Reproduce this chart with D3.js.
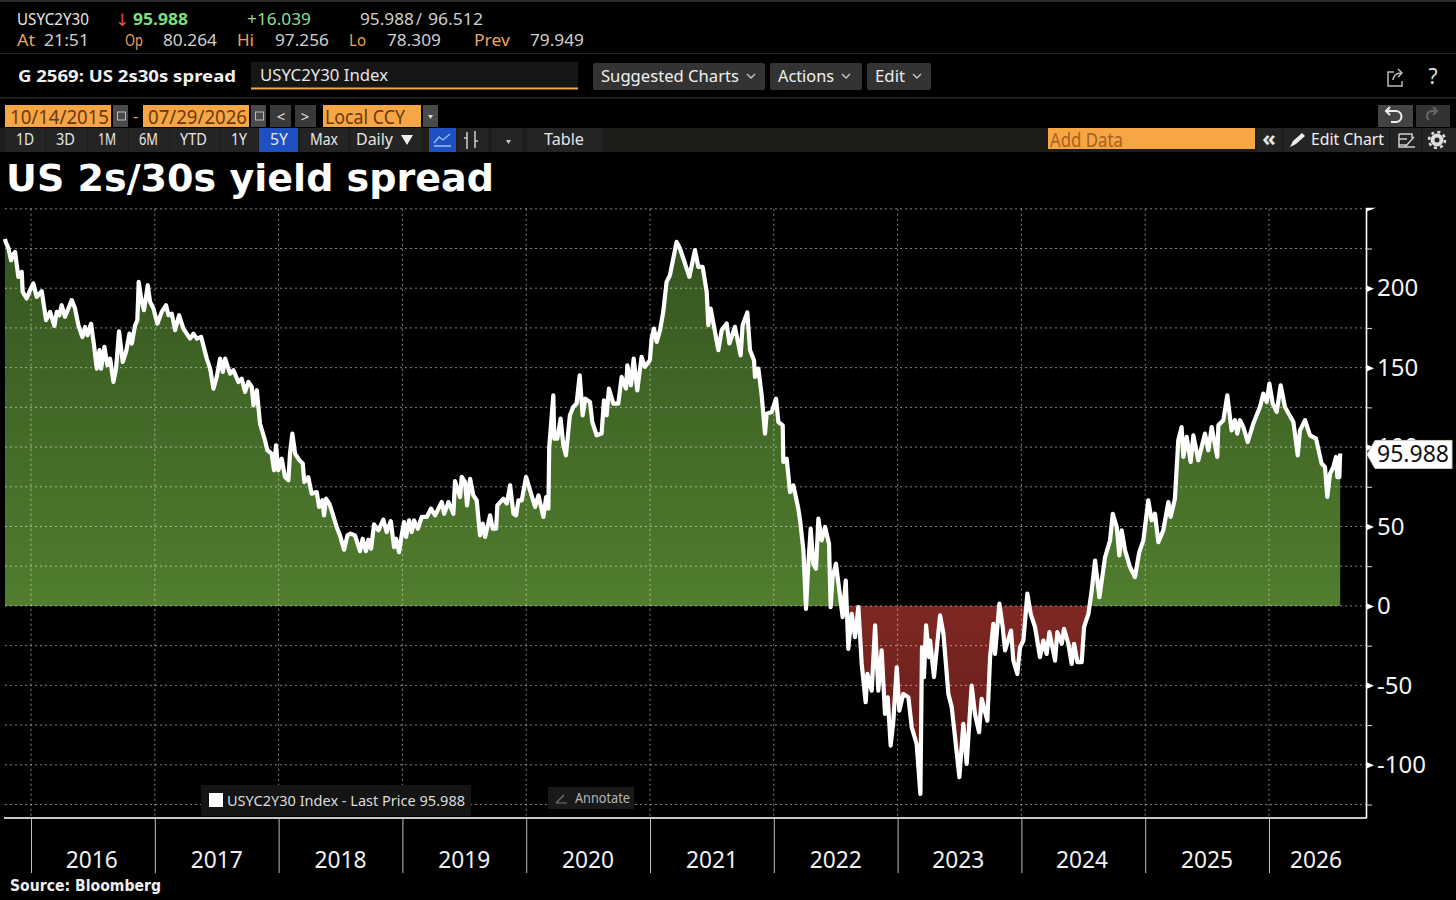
<!DOCTYPE html>
<html lang="en">
<head>
<meta charset="UTF-8">
<title>US 2s/30s yield spread</title>
<script src="https://d3js.org/d3.v7.min.js"></script>
<style>
    html, body { margin: 0; padding: 0; background: #000; overflow: hidden; }
    svg { display: block; }
    text { font-family: "Noto Sans", "DejaVu Sans", sans-serif; }
</style>
</head>
<body>
<div id="chart"></div>
<script>
// Spread in bp. Dates are decimal years.
const spreadDates = [
  2015.79,2015.796,2015.817,2015.839,2015.852,2015.871,2015.898,2015.925,2015.933,2015.965,2015.992,
  2016.019,2016.046,2016.087,2016.122,2016.154,2016.189,2016.208,2016.229,2016.248,2016.275,2016.329,2016.356,2016.383,2016.415,2016.437,2016.456,2016.485,2016.509,2016.531,2016.553,2016.566,2016.593,2016.617,2016.639,2016.666,2016.687,2016.711,2016.741,2016.768,2016.795,2016.814,2016.841,2016.859,2016.87,2016.894,2016.913,2016.943,2016.962,2016.989,
  2017.021,2017.056,2017.091,2017.11,2017.137,2017.164,2017.196,2017.231,2017.285,2017.312,2017.339,2017.374,2017.42,2017.447,2017.474,2017.5,2017.527,2017.549,2017.568,2017.608,2017.635,2017.675,2017.702,2017.729,2017.756,2017.783,2017.797,2017.824,2017.85,2017.89,2017.909,2017.944,2017.963,2017.979,2017.998,
  2018.025,2018.052,2018.079,2018.092,2018.111,2018.133,2018.168,2018.195,2018.208,2018.24,2018.267,2018.308,2018.327,2018.354,2018.367,2018.383,2018.41,2018.437,2018.469,2018.496,2018.529,2018.556,2018.582,2018.617,2018.658,2018.679,2018.706,2018.725,2018.747,2018.771,2018.806,2018.846,2018.873,2018.906,2018.933,2018.949,2018.973,2018.994,
  2019.013,2019.03,2019.054,2019.075,2019.094,2019.124,2019.156,2019.197,2019.231,2019.264,2019.318,2019.337,2019.372,2019.412,2019.425,2019.466,2019.479,2019.506,2019.522,2019.547,2019.573,2019.6,2019.627,2019.649,2019.668,2019.708,2019.73,2019.757,2019.767,2019.816,2019.843,2019.87,2019.897,2019.918,2019.937,2019.964,2019.999,
  2020.031,2020.072,2020.099,2020.139,2020.161,2020.179,2020.186,2020.219,2020.227,2020.251,2020.278,2020.3,2020.321,2020.353,2020.38,2020.407,2020.432,2020.456,2020.477,2020.515,2020.534,2020.569,2020.609,2020.628,2020.65,2020.668,2020.704,2020.744,2020.771,2020.806,2020.817,2020.846,2020.868,2020.897,2020.932,2020.959,2020.999,
  2021.013,2021.032,2021.054,2021.081,2021.107,2021.134,2021.161,2021.188,2021.215,2021.242,2021.269,2021.318,2021.363,2021.39,2021.425,2021.458,2021.471,2021.49,2021.525,2021.552,2021.579,2021.619,2021.641,2021.686,2021.732,2021.748,2021.786,2021.808,2021.84,2021.848,2021.875,2021.902,2021.929,2021.942,2021.983,
  2022.018,2022.037,2022.072,2022.077,2022.104,2022.131,2022.158,2022.198,2022.212,2022.239,2022.26,2022.279,2022.298,2022.319,2022.341,2022.36,2022.387,2022.414,2022.446,2022.459,2022.475,2022.502,2022.529,2022.556,2022.581,2022.602,2022.629,2022.656,2022.683,2022.71,2022.742,2022.756,2022.791,2022.818,2022.844,2022.871,2022.898,2022.92,2022.944,2022.966,2022.993,
  2023.014,2023.046,2023.087,2023.114,2023.154,2023.184,2023.197,2023.213,2023.23,2023.254,2023.262,2023.294,2023.343,2023.37,2023.388,2023.41,2023.437,2023.464,2023.499,2023.531,2023.558,2023.598,2023.625,2023.658,2023.679,2023.725,2023.747,2023.773,2023.787,2023.822,2023.849,2023.868,2023.916,2023.935,2023.967,2023.989,
  2024.016,2024.048,2024.075,2024.11,2024.15,2024.177,2024.204,2024.226,2024.272,2024.29,2024.326,2024.344,2024.379,2024.406,2024.425,2024.452,2024.487,2024.506,2024.541,2024.568,2024.595,2024.63,2024.676,2024.716,2024.738,2024.77,2024.791,2024.81,2024.837,2024.877,2024.917,2024.952,2024.985,
  2025.025,2025.052,2025.079,2025.106,2025.146,2025.187,2025.205,2025.24,2025.267,2025.294,2025.308,2025.335,2025.367,2025.389,2025.429,2025.483,2025.51,2025.537,2025.582,2025.591,2025.631,2025.663,2025.698,2025.725,2025.744,2025.766,2025.793,2025.828,2025.873,2025.927,2025.954,2025.981,
  2026.003,2026.03,2026.062,2026.094,2026.129,2026.197,2026.232,2026.25,2026.291,2026.331,2026.38,2026.425,2026.452,2026.471,2026.493,2026.52,2026.541,2026.552,2026.568,2026.575
];
const spreadValues = [
  231,229,225.4,217.6,220.8,222.9,207.1,210.3,197.7,193.5,198.7,
  203,194.5,198.1,179.9,185.1,176.3,185.1,183,189.3,182,192.5,187.2,176.7,169.3,175.6,170.4,177.7,164.1,149.4,161,149.4,163.1,151.5,155.7,141,149.4,172.9,153.6,159.9,171.4,165.1,176.7,179.9,204,191.4,186.2,201.9,191.4,187.2,
  177.7,185.1,189.3,183,184,173.6,183,174.6,168.3,171.4,168.3,169.4,155.7,149.4,136.8,144.1,155.7,147.3,155.7,146.2,148.4,141,143.1,134.7,141,137.9,126.3,135.8,114.7,104.3,98,95.9,85.4,101.1,85.4,
  92.7,81.1,79.1,95.9,108.5,95.9,91.7,89.6,78,81.1,70.7,71.7,62.3,66.5,57,67.5,64.4,58,49.7,44.4,35.4,44.4,45.5,44.4,34.5,42.3,34.5,41.7,36,51.3,47.6,54.3,46.5,53.4,37,42.3,33.9,44.4,
  52.8,43.4,53.9,46.5,53.9,48.6,56,56,61.2,57,65.4,58,65.4,58,78.6,68.5,81.2,78,63.3,80,69.6,66.5,44.4,51.8,43.4,57,48.6,48.6,63.3,67.5,64.4,75.9,58,57,66.5,66.5,81.2,
  72.8,62.3,69.6,56,68.5,61.2,100,132.6,105.3,105.3,117.9,101.1,94.8,120,125.2,127.4,145.2,120,130.5,128.4,115.8,107.4,108.5,129.4,120,136.8,127.4,127.4,144.2,136.8,151.5,138.9,155.7,135.7,156.8,150.5,154.7,
  168.3,174.6,166.2,173.6,185.1,204,208.2,218.7,229.2,225,218.7,207.2,224,213.5,213.5,197.7,176.7,187.2,172.5,161,173.6,177.8,165.2,175.7,157.8,176.7,184.7,161,154.7,144.2,149.4,132.6,108.5,121,122.1,
  130.5,115.8,113.7,90.6,92.7,71.7,75.9,61.2,53.9,35,-1.8,26.6,48.6,26.6,23.4,54.9,41.3,49.7,39.2,-0.8,18.2,26.6,9.8,-7,16,-27,-5,-19.7,-0.8,-36.5,-60.6,-42.8,-53.3,-12.3,-53.3,-28,-68,-57.5,-87.9,-72.2,-38.6,
  -65.9,-55.4,-57.5,-76.4,-86.9,-118.4,-26,-44.8,-12.3,-32.2,-21.8,-44.8,-6,-17.5,-34.4,-55.4,-63.7,-82.6,-107.8,-74.3,-99.5,-50.1,-68,-79.5,-58.5,-72.2,-32.2,-11.3,-30.2,1.4,-13.4,-28,-15.5,-34.4,-42.8,-26,
  -21.8,7.7,-5,-13.4,-32.2,-21.8,-30.2,-16.5,-34.4,-16.5,-23.8,-14.4,-23.8,-36.5,-23.8,-35.4,-35.4,-13.4,-5,9.8,28.6,5.5,30.8,41.3,58,49.7,31.8,47.6,35,24.5,18.2,33.9,41.3,
  66.5,53.9,58,40.2,47.6,65.4,56,67.5,104.3,112.6,93.8,106.4,90.6,107.4,91.7,108.5,98,112.6,93.8,113.7,116.9,132.6,110.5,116.9,108.5,116.9,112.6,103.2,114.8,125.2,133.7,128.4,
  140,127.4,122.1,138.9,125.2,115.8,94.8,110.5,116.9,107.4,105.3,89.6,87.5,68.6,83.3,87.5,93.8,81.1,81.1,95.988
];

const yearTicks = [2016,2017,2018,2019,2020,2021,2022,2023,2024,2025,2026];
const yearLabelDates = [2016.49,2017.5,2018.5,2019.5,2020.5,2021.5,2022.5,2023.49,2024.49,2025.5,2026.38];
const labelledTicks = [-100,-50,0,50,100,150,200];
const gridLevels = [-125,-100,-75,-50,-25,0,25,50,75,100,125,150,175,200,225,250];
const lastPrice = 95.988;

const W = 1456, H = 900;
const plotLeft = 5, plotRight = 1366, plotTop = 208.8, plotBottom = 818;

const svg = d3.select("#chart").append("svg").attr("width", W).attr("height", H);
svg.append("rect").attr("width", W).attr("height", H).attr("fill", "#000");

const x = d3.scaleLinear().domain([2015.79, 2026.575]).range([plotLeft, 1340.2]);
const y = d3.scaleLinear().domain([-133.5, 250]).range([plotBottom, plotTop]);

const series = spreadDates.map((d, i) => ({ t: d, v: spreadValues[i] }));

// text helper, width squeezes the string to what the terminal font takes up
function label(px, py, str, o = {}) {
    const t = svg.append("text")
        .attr("x", px).attr("y", py)
        .attr("fill", o.fill || "#e6e6e6")
        .attr("font-size", o.size || 16)
        .attr("font-weight", o.weight || 400)
        .attr("text-anchor", o.anchor || "start")
        .text(str);
    if (o.family) t.style("font-family", o.family);
    if (o.width) t.attr("textLength", o.width).attr("lengthAdjust", "spacingAndGlyphs");
    return t;
}
function box(px, py, w, h, fill, r = 0) {
    return svg.append("rect").attr("x", px).attr("y", py).attr("width", w).attr("height", h).attr("fill", fill).attr("rx", r);
}

const orange = "#f7a645", amber = "#e8a45c", darkOrange = "#6b3a08";

// ---- top quote strip
box(0, 0, W, 2, "#2a2a2a");
label(17, 25, "USYC2Y30", { width: 72 });
label(115, 26, "↓", { fill: "#e2504a", size: 17 });
label(133, 25, "95.988", { fill: "#7be07b", weight: 700, width: 55 });
label(247, 25, "+16.039", { fill: "#8fdc8f", width: 64 });
label(360, 25, "95.988", { fill: "#cfcfcf", width: 54 });
label(416, 25, "/", { fill: "#cfcfcf" });
label(428, 25, "96.512", { fill: "#cfcfcf", width: 55 });
label(17, 46, "At", { fill: amber, width: 18 });
label(44, 46, "21:51", { fill: "#cfcfcf", width: 45 });
label(125, 46, "Op", { fill: amber, width: 18 });
label(163, 46, "80.264", { fill: "#cfcfcf", width: 54 });
label(237, 46, "Hi", { fill: amber, width: 17 });
label(275, 46, "97.256", { fill: "#cfcfcf", width: 54 });
label(349, 46, "Lo", { fill: amber, width: 17 });
label(387, 46, "78.309", { fill: "#cfcfcf", width: 54 });
label(474, 46, "Prev", { fill: amber, width: 36 });
label(530, 46, "79.949", { fill: "#cfcfcf", width: 54 });
box(0, 53, W, 1, "#262626");

// ---- chart title bar
label(18, 82, "G 2569: US 2s30s spread", { weight: 700, width: 218, fill: "#f0f0f0" });
box(251, 62, 327, 26, "#161616");
box(251, 87.5, 327, 2, orange);
label(260, 81, "USYC2Y30 Index", { width: 128 });
const menus = [[593, 172, "Suggested Charts", 601, 138], [770, 92, "Actions", 778, 56], [867, 64, "Edit", 875, 30]];
menus.forEach(m => {
    box(m[0], 63, m[1], 27, "#333", 2);
    label(m[3], 82, m[2], { width: m[4], fill: "#f0f0f0" });
    const cx = m[3] + m[4] + 12;
    svg.append("path").attr("d", `M${cx - 4},74 l4,4 l4,-4`).attr("fill", "none").attr("stroke", "#ccc").attr("stroke-width", 1.3);
});
svg.append("path").attr("d", "M1394,72 h-6 v14 h14 v-5 M1393,80 q1,-7 8,-7 M1398,69 l4,4 l-4,4")
    .attr("fill", "none").attr("stroke", "#bbb").attr("stroke-width", 1.5);
label(1433, 84, "?", { size: 21, anchor: "middle", fill: "#ddd" });
box(0, 97, W, 1.5, "#262626");

// ---- date range row
box(5, 105, 106, 22, orange);
label(10, 124, "10/14/2015", { fill: darkOrange, width: 99, size: 19 });
box(113, 105, 15, 22, "#4a4a4a");
box(143, 105, 106, 22, orange);
label(148, 124, "07/29/2026", { fill: darkOrange, width: 99, size: 19 });
box(251, 105, 15, 22, "#4a4a4a");
[117, 255].forEach(c => svg.append("rect").attr("x", c + 0.5).attr("y", 112).attr("width", 8).attr("height", 8).attr("fill", "none").attr("stroke", "#bbb"));
label(133, 122, "-", { fill: orange });
box(270, 105, 21, 22, "#3a3a3a");
box(295, 105, 21, 22, "#3a3a3a");
label(281, 122, "<", { anchor: "middle", size: 15 });
label(305, 122, ">", { anchor: "middle", size: 15 });
box(323, 105, 98, 22, orange);
label(325, 124, "Local CCY", { fill: darkOrange, width: 80, size: 19 });
box(423, 105, 15, 22, "#4a4a4a");
svg.append("path").attr("d", "M428,115 h5 l-2.5,4 z").attr("fill", "#ddd");
box(1378, 105, 35, 22, "#444");
box(1416, 105, 34, 22, "#333");
svg.append("path").attr("d", "M1387,111 h9 a5,5 0 0 1 0,11 h-5 M1390,107 l-4,4 l4,4").attr("fill", "none").attr("stroke", "#eee").attr("stroke-width", 2);
svg.append("path").attr("d", "M1437,111 h-5 a5,5 0 0 0 -3,9 M1433,107 l4,4 l-4,4").attr("fill", "none").attr("stroke", "#666").attr("stroke-width", 2);

// ---- range buttons row
box(0, 128, 1456, 24, "#1e1d1a");
const tabs = [["1D", 16, 18, 5, 40], ["3D", 56, 19, 46, 41], ["1M", 98, 18, 88, 40], ["6M", 139, 19, 129, 40], ["YTD", 180, 27, 170, 49], ["1Y", 231, 16, 220, 38]];
tabs.forEach(t => {
    box(t[3], 128, t[4], 24, "#242424");
    label(t[1], 145, t[0], { width: t[2], fill: "#e6e6e6" });
});
box(259, 128, 39, 24, "#1f4fc0");
label(270, 145, "5Y", { width: 18 });
box(300, 128, 48, 24, "#242424");
label(310, 145, "Max", { width: 28 });
box(350, 128, 71, 24, "#242424");
label(356, 145, "Daily", { width: 37 });
svg.append("path").attr("d", "M401,135 h12 l-6,10 z").attr("fill", "#eee");
box(429, 128, 27, 24, "#1f4fc0");
svg.append("path").attr("d", "M434,146 h17 M434,143 l5,-6 l4,3 l7,-6").attr("fill", "none").attr("stroke", "#9cc0f5").attr("stroke-width", 1.3);
box(458, 128, 30, 24, "#242424");
svg.append("path").attr("d", "M467,132 v17 M464,138 h3 M475,131 v17 M475,141 h3").attr("fill", "none").attr("stroke", "#ccc").attr("stroke-width", 1.5);
box(492, 128, 30, 24, "#242424");
svg.append("path").attr("d", "M506,140 h5 l-2.5,4 z").attr("fill", "#ccc");
box(527, 128, 75, 24, "#242424");
label(544, 145, "Table", { width: 40 });
box(1048, 128, 207, 21, orange);
label(1050, 147, "Add Data", { fill: "#a6621c", width: 73, size: 19 });
box(1257, 128, 25, 24, "#242424");
box(1284, 128, 105, 24, "#242424");
box(1391, 128, 30, 24, "#242424");
box(1423, 128, 33, 24, "#242424");
label(1269, 146, "«", { anchor: "middle", size: 22, weight: 700 });
svg.append("path").attr("d", "M1290,147 l3,-6 l9,-8 l3,3 l-9,8 z").attr("fill", "#eee");
label(1311, 145, "Edit Chart", { width: 73, fill: "#f0f0f0" });
svg.append("path").attr("d", "M1399,134 h13 v4 M1399,139 h8 M1399,145 h8 M1405,147 l9,-10 M1399,134 v13 h16").attr("fill", "none").attr("stroke", "#ccc").attr("stroke-width", 1.5);
svg.append("circle").attr("cx", 1437).attr("cy", 140).attr("r", 4.5).attr("fill", "none").attr("stroke", "#ddd").attr("stroke-width", 4);
svg.append("circle").attr("cx", 1437).attr("cy", 140).attr("r", 8).attr("fill", "none").attr("stroke", "#ddd").attr("stroke-width", 2.5).attr("stroke-dasharray", "3 3.3");

// ---- title
label(6, 191, "US 2s/30s yield spread", { size: 38, weight: 700, fill: "#fff", width: 488, family: "'DejaVu Sans', sans-serif" });

// ---- fills
const defs = svg.append("defs");
function gradient(id, y1, y2, c1, c2) {
    const g = defs.append("linearGradient").attr("id", id).attr("gradientUnits", "userSpaceOnUse")
        .attr("x1", 0).attr("x2", 0).attr("y1", y1).attr("y2", y2);
    g.append("stop").attr("offset", 0).attr("stop-color", c1);
    g.append("stop").attr("offset", 1).attr("stop-color", c2);
}
gradient("greenFill", y(230), y(0), "#365520", "#507d2e");
gradient("redFill", y(0), y(-120), "#7f2823", "#5e1a18");
defs.append("clipPath").attr("id", "aboveZero").append("rect")
    .attr("x", 0).attr("y", 0).attr("width", W).attr("height", y(0));
defs.append("clipPath").attr("id", "belowZero").append("rect")
    .attr("x", 0).attr("y", y(0)).attr("width", W).attr("height", H - y(0));

const area = d3.area().x(d => x(d.t)).y0(y(0)).y1(d => y(d.v));
svg.append("path").datum(series).attr("d", area).attr("fill", "url(#greenFill)").attr("clip-path", "url(#aboveZero)");
svg.append("path").datum(series).attr("d", area).attr("fill", "url(#redFill)").attr("clip-path", "url(#belowZero)");

// ---- dotted grid
const grid = svg.append("g").attr("fill", "none").attr("stroke", "#fff").attr("stroke-opacity", 0.5).attr("stroke-dasharray", "2 3");
grid.selectAll(".h").data(gridLevels).join("line").attr("class", "h")
    .attr("x1", plotLeft).attr("x2", plotRight).attr("y1", d => y(d)).attr("y2", d => y(d));
grid.selectAll(".v").data(yearTicks).join("line").attr("class", "v")
    .attr("x1", d => x(d)).attr("x2", d => x(d)).attr("y1", plotTop).attr("y2", plotBottom);

// ---- spread line
const line = d3.line().x(d => x(d.t)).y(d => y(d.v));
svg.append("path").datum(series).attr("d", line).attr("fill", "none").attr("stroke", "#fff")
    .attr("stroke-width", 4.2).attr("stroke-linejoin", "round");

// ---- right axis
const yAxis = d3.axisRight(y).tickValues(gridLevels.filter(d => !labelledTicks.includes(d))).tickSize(6).tickSizeOuter(0).tickFormat("");
const yAxisG = svg.append("g").attr("transform", `translate(${plotRight},0)`).call(yAxis);
yAxisG.select(".domain").attr("stroke", "#fff").attr("stroke-width", 1.6);
yAxisG.selectAll(".tick line").attr("stroke", "#ddd");
const yLabels = d3.axisRight(y).tickValues(labelledTicks).tickSize(0).tickPadding(11)
    .tickFormat(d => d < 0 ? "-" + Math.abs(d) : d);
const yLabelsG = svg.append("g").attr("transform", `translate(${plotRight},0)`).call(yLabels);
yLabelsG.select(".domain").remove();
yLabelsG.selectAll(".tick text").attr("fill", "#f4f4f4").attr("font-size", 24)
    .style("font-family", "'Noto Sans', sans-serif").attr("dy", "0.32em");
yLabelsG.selectAll(".tick").append("path").attr("d", "M0,-3.5 L8,0 L0,3.5 Z").attr("fill", "#fff");
svg.append("path").attr("d", `M${plotRight},${plotTop - 1} l10,0 l-10,4 z`).attr("fill", "#fff");

// ---- last price tag
svg.append("path").datum(lastPrice)
    .attr("d", d => `M1367,${y(d) + 1} l8,-14 h77 v28 h-77 z`)
    .attr("fill", "#fff").attr("stroke", "#ccc");
label(1377, y(lastPrice) + 9, lastPrice.toFixed(3), { fill: "#111", size: 24, width: 72 });

// ---- bottom axis
const xAxis = d3.axisBottom(x).tickValues(yearTicks).tickSize(55).tickSizeOuter(0).tickFormat("");
const xAxisG = svg.append("g").attr("transform", `translate(0,${plotBottom})`).call(xAxis);
xAxisG.select(".domain").remove();
xAxisG.selectAll(".tick line").attr("stroke", "#bdbdbd");
box(4, plotBottom - 1, plotRight - 4, 2, "#c8c8c8");
svg.append("g").selectAll("text").data(yearLabelDates).join("text")
    .attr("x", d => x(d)).attr("y", 868).attr("text-anchor", "middle")
    .attr("fill", "#f0f0f0").attr("font-size", 24)
    .attr("textLength", 52).attr("lengthAdjust", "spacingAndGlyphs")
    .text((d, i) => yearTicks[i]);
label(10, 891, "Source: Bloomberg", { size: 15, weight: 700, width: 151, fill: "#eee", family: "'DejaVu Sans', sans-serif" });

// ---- legend and annotate chips
box(201, 785, 270, 31, "#141414");
box(209, 793, 14, 14, "#fff");
label(227, 806, "USYC2Y30 Index - Last Price 95.988", { size: 15, width: 238, fill: "#dcdcdc" });
box(548, 787, 86, 22, "#191919");
svg.append("path").attr("d", "M556,803 l8,-8 M556,803 h11").attr("fill", "none").attr("stroke", "#777").attr("stroke-width", 1.2);
label(575, 803, "Annotate", { size: 14, width: 55, fill: "#b5b5b5" });
</script>
</body>
</html>
